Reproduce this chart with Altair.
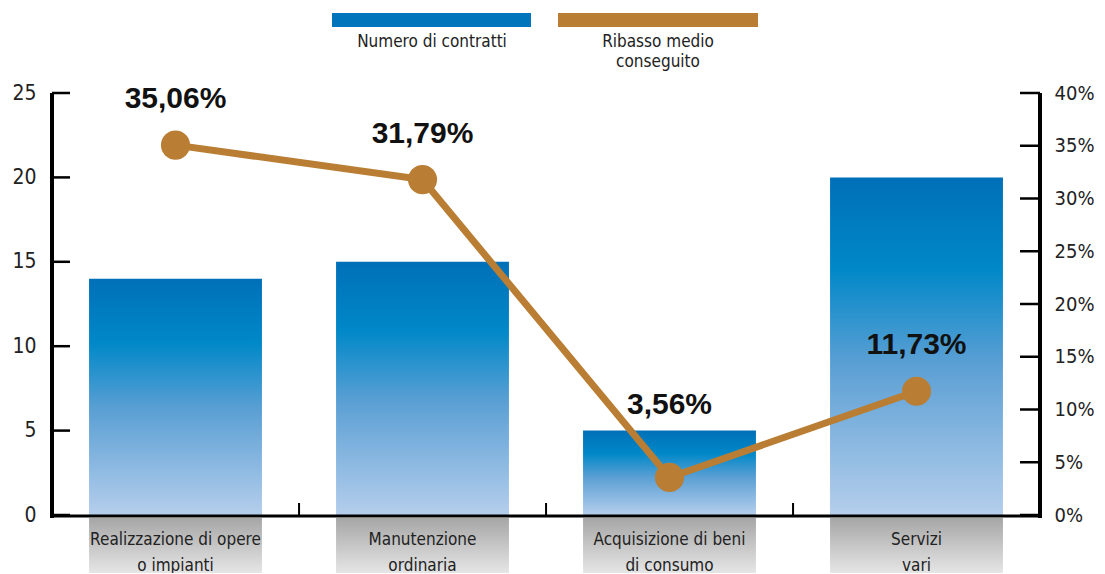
import altair as alt
import pandas as pd

# ---- data ----
categories = ["Realizzazione di opere\no impianti", "Manutenzione\nordinaria",
              "Acquisizione di beni\ndi consumo", "Servizi\nvari"]
contracts = [14, 15, 5, 20]
ribasso = [35.06, 31.79, 3.56, 11.73]
left_ticks = [0, 5, 10, 15, 20, 25]
right_ticks = [0, 5, 10, 15, 20, 25, 30, 35, 40]
legend_labels = ["Numero di contratti", "Ribasso medio\nconseguito"]

BLUE = "#0075BC"
BROWN = "#B97E33"
W, H = 988, 422
FONT = "Liberation Sans Narrow, DejaVu Sans Condensed, sans-serif"
BOLD = "Liberation Sans, Arial, sans-serif"

df = pd.DataFrame({"cat": categories, "n": contracts, "pct": ribasso})
lt = pd.DataFrame({"v": left_ticks})
rt = pd.DataFrame({"v": right_ticks})

xs = alt.X("cat:N", sort=categories,
           scale=alt.Scale(domain=categories, paddingInner=0.3, paddingOuter=0.15),
           axis=None)
ycount = alt.Scale(domain=[0, 25], nice=False, zero=True)
ypct = alt.Scale(domain=[0, 40], nice=False, zero=True)

base = alt.Chart(df)

bar_grad = alt.Gradient(gradient="linear", x1=0, x2=0, y1=0, y2=1, stops=[
    alt.GradientStop(offset=0, color="#0070B8"),
    alt.GradientStop(offset=0.27, color="#0088C8"),
    alt.GradientStop(offset=0.55, color="#5A9FD4"),
    alt.GradientStop(offset=1, color="#B5CEEC"),
])
gray_grad = alt.Gradient(gradient="linear", x1=0, x2=0, y1=0, y2=1, stops=[
    alt.GradientStop(offset=0, color="#A6A6A6"),
    alt.GradientStop(offset=1, color="#FFFFFF"),
])

bars = base.mark_bar(color=bar_grad).encode(
    x=xs,
    y=alt.Y("n:Q", scale=ycount,
            axis=alt.Axis(orient="left", values=left_ticks, domain=False, ticks=False,
                          grid=False, labelPadding=16, labelFontSize=21, labelFont=FONT,
                          labelColor="#222222", title=None)),
)

gray_boxes = base.mark_bar(color=gray_grad).encode(
    x=xs, y=alt.value(H + 3), y2=alt.value(H + 80))

xlabels = base.mark_text(font=FONT, fontSize=17, color="#222222", lineBreak="\n",
                         baseline="middle", lineHeight=26).encode(
    x=xs, y=alt.value(H + 25), text="cat:N")

dividers = alt.Chart(pd.DataFrame({"cat": categories[1:]})).mark_rule(
    color="#000000", strokeWidth=2, xOffset=-37).encode(
    x=alt.X("cat:N", sort=categories, bandPosition=0,
            scale=alt.Scale(domain=categories, paddingInner=0.3, paddingOuter=0.15), axis=None),
    y=alt.value(H - 12), y2=alt.value(H))

lticks = alt.Chart(lt).mark_rule(color="#000000", strokeWidth=2.5).encode(
    y=alt.Y("v:Q", scale=ycount, axis=None), x=alt.value(0), x2=alt.value(18))

line = base.mark_line(color=BROWN, strokeWidth=7).encode(
    x=xs, y=alt.Y("pct:Q", scale=ypct,
                  axis=alt.Axis(orient="right", values=right_ticks, domain=False, ticks=False,
                                grid=False, labelPadding=14, labelFontSize=20, labelFont=FONT,
                                labelColor="#222222", title=None,
                                labelExpr="datum.value + '%'")))

points = base.mark_circle(color=BROWN, opacity=1, size=850).encode(
    x=xs, y=alt.Y("pct:Q", scale=ypct, axis=None))

plabels = base.transform_calculate(
    lab="replace(format(datum.pct, '.2f'), '.', ',') + '%'",
    ly="max(datum.pct + 3.5, 9.6)",
).mark_text(font=BOLD, fontWeight="bold", fontSize=30, color="#111111",
            baseline="alphabetic").encode(
    x=xs, y=alt.Y("ly:Q", scale=ypct, axis=None), text="lab:N")

rticks = alt.Chart(rt).mark_rule(color="#000000", strokeWidth=2.5).encode(
    y=alt.Y("v:Q", scale=ypct, axis=None), x=alt.value(W - 20), x2=alt.value(W))

one = alt.Chart(pd.DataFrame({"k": [0]}))
left_axis = one.mark_rule(color="#000000", strokeWidth=4).encode(
    x=alt.value(0), y=alt.value(0), y2=alt.value(H + 3))
right_axis = one.mark_rule(color="#000000", strokeWidth=4).encode(
    x=alt.value(W), y=alt.value(0), y2=alt.value(H + 3))
bottom_axis = one.mark_rule(color="#000000", strokeWidth=3).encode(
    x=alt.value(-2), x2=alt.value(W + 2), y=alt.value(H + 1))

leg_blue = one.mark_rect(color=BLUE).encode(
    x=alt.value(280), x2=alt.value(479), y=alt.value(-80), y2=alt.value(-66))
leg_brown = one.mark_rect(color=BROWN).encode(
    x=alt.value(506), x2=alt.value(706), y=alt.value(-80), y2=alt.value(-66))
leg_t1 = one.mark_text(font=FONT, fontSize=17, color="#222222", baseline="middle",
                       text=legend_labels[0]).encode(x=alt.value(380), y=alt.value(-51))
leg_t2 = one.mark_text(font=FONT, fontSize=17, color="#222222", baseline="middle",
                       lineBreak="\n", lineHeight=20, text=legend_labels[1]).encode(
    x=alt.value(606), y=alt.value(-51))

chart = alt.layer(
    bars, gray_boxes, xlabels, lticks, line, points, plabels, rticks,
    dividers, left_axis, right_axis, bottom_axis,
    leg_blue, leg_brown, leg_t1, leg_t2,
).resolve_scale(y="independent").properties(
    width=W, height=H,
    autosize=alt.AutoSizeParams(type="none"),
    padding={"left": 44, "top": 85, "right": 57, "bottom": 58},
).configure_view(stroke=None)

chart.save("out.html", embed_options={"renderer": "svg", "actions": False})
